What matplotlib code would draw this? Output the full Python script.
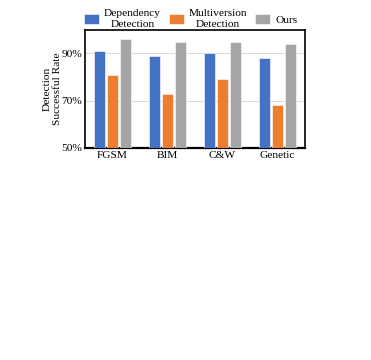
import matplotlib
matplotlib.use("Agg")
import matplotlib.pyplot as plt
import numpy as np

plt.rcParams['font.family'] = ['Liberation Serif', 'DejaVu Serif']

categories = ["FGSM", "BIM", "C&W", "Genetic"]
series_names = ["Dependency\nDetection", "Multiversion\nDetection", "Ours"]
dependency = [91, 89, 90, 88]
multiversion = [81, 73, 79, 68]
ours = [96, 95, 95, 94]
yticks = [50, 70, 90]
ytick_labels = ["50%", "70%", "90%"]
colors = ["#4472C4", "#ED7D31", "#A5A5A5"]

fs = 8.2

fig = plt.figure(figsize=(3.71, 3.6), dpi=100)
ax = fig.add_axes([0.229, 0.589, 0.593, 0.328])

x = np.arange(len(categories))
w = 0.19
off = 0.235
for i, (vals, name) in enumerate(zip([dependency, multiversion, ours], series_names)):
    ax.bar(x + (i - 1) * off, vals, width=w, color=colors[i], label=name,
           edgecolor='white', linewidth=0.4, zorder=3)

ax.set_ylim(50, 100)
ax.set_xlim(-0.5, 3.5)
ax.set_yticks(yticks)
ax.set_yticklabels(ytick_labels, fontsize=fs)
ax.set_xticks(x)
ax.set_xticklabels(categories, fontsize=fs)
ax.tick_params(length=0, pad=2)
ax.yaxis.grid(True, color='#dcdcdc', linewidth=0.8, zorder=0)
for s in ax.spines.values():
    s.set_linewidth(1.2)
    s.set_color('black')
ax.spines['bottom'].set_linewidth(1.6)
ax.set_ylabel("Detection\nSuccessful Rate", fontsize=fs, labelpad=-0.5, linespacing=1.15)

leg = ax.legend(loc='lower center', bbox_to_anchor=(0.48, 0.965), ncol=3, frameon=False,
                fontsize=fs, handlelength=1.3, handleheight=0.9, columnspacing=0.7,
                handletextpad=0.45, borderaxespad=0.0, labelspacing=0.2)
for t in leg.get_texts():
    t.set_multialignment('center')
    t.set_linespacing(1.35)

fig.savefig("out.png", dpi=100)
